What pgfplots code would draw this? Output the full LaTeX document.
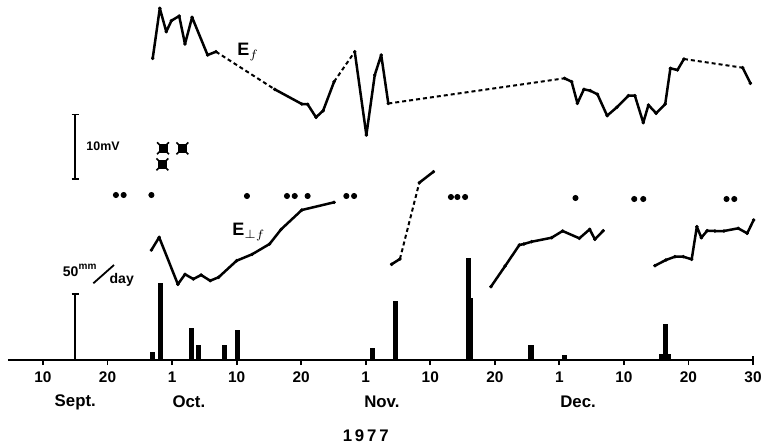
\documentclass[border=0pt]{standalone}
\usepackage{pgfplots}
\pgfplotsset{compat=1.18}
\usepackage{fontspec}
\setmainfont{Liberation Sans}
\begin{document}
\begin{tikzpicture}
\path[use as bounding box] (-4pt,-43pt) rectangle (378.5pt,180pt);
\begin{axis}[
  scale only axis, width=372.5pt, height=180pt,
  xmin=4.58, xmax=120, ymin=0, ymax=360,
  axis x line*=bottom, axis y line=none,
  axis line style={line width=0.9pt,-},
  xtick={10,20,...,120},
  xticklabels={10,20,1,10,20,1,10,20,1,10,20,30},
  tick align=outside, major tick length=2.5pt,
  xtick style={line width=0.9pt, black},
  ticklabel style={font=\bfseries\fontsize{7.7}{8}\selectfont},
  /pgf/number format/assume math mode=true,
  clip=false,
  solidline/.style={line width=1.25pt, line join=round, mark=*, mark size=0.75pt, mark options={line width=0.3pt}},
  dashline/.style={line width=1pt, dash pattern=on 2pt off 1.5pt},
]
% ---- E_f (solid parts) ----
\addplot[solidline] coordinates {
 (27.0,301.7) (28.1,351.7) (29.1,328.3) (29.9,339.3) (31.1,344) (32.0,316) (33.1,342.7) (35.5,305) (36.8,308.3)};
\addplot[solidline] coordinates {
 (45.9,270.7) (50.1,256) (51.0,255.7) (52.3,242.7) (53.4,249.3) (55.1,278.3)};
\addplot[solidline] coordinates {
 (58.3,308.3) (60.1,225) (61.4,285) (62.4,305) (63.5,256.5)};
\addplot[solidline] coordinates {
 (90.8,281.7) (91.9,278.3) (92.8,256.7) (93.8,270.7) (94.8,269.3) (95.9,265.7) (97.4,244.3) (98.9,252.7) (100.7,264.3) (101.7,264.3) (103.0,237.3) (103.8,255) (105.0,246.7) (106.4,256) (107.2,291.7) (108.3,290) (109.3,301)};
\addplot[solidline] coordinates {
 (118.4,292.3) (119.6,276.7)};
% ---- E_f (dashed gaps) ----
\addplot[dashline] coordinates {(36.8,308.3) (45.9,270.7)};
\addplot[dashline] coordinates {(55.1,278.3) (58.3,308.3)};
\addplot[dashline] coordinates {(63.5,256.5) (90.8,281.7)};
\addplot[dashline] coordinates {(109.3,301) (118.4,292.3)};
% ---- E_perp f ----
\addplot[solidline] coordinates {
 (26.8,110) (28.0,122.7) (30.9,75.7) (32.0,85.7) (33.3,81) (34.5,85) (35.9,79.3) (37.2,82.7) (40.0,99.3) (42.4,105.7) (45.1,116) (46.9,130.7) (50.1,150) (55.1,157.7)};
\addplot[solidline] coordinates {(64.0,95.7) (65.3,101)};
\addplot[dashline] coordinates {(65.3,101) (68.3,177.3)};
\addplot[solidline] coordinates {(68.3,177.3) (70.5,188.3)};
\addplot[solidline] coordinates {
 (79.4,73.3) (81.6,94) (83.8,115) (84.5,116) (85.7,118.3) (88.8,122.3) (90.5,129) (93.1,121.7) (94.7,130.7) (95.5,120.7) (96.8,129.3)};
\addplot[solidline] coordinates {
 (104.8,94.3) (106.5,100) (107.9,103.3) (109.2,103.3) (110.5,100.7) (111.3,133.3) (112.0,122.3) (112.9,129.3) (114.1,129) (115.5,129) (117.7,131.7) (119.1,126.7) (120.1,140)};
% ---- row of dots ----
\addplot[only marks, mark=*, mark size=1.3pt] coordinates {
 (21.3,165) (22.5,165) (26.8,165) (41.6,164) (47.8,164) (49.0,164) (51.0,164) (57.0,164) (58.2,164)
 (73.2,163) (74.2,163) (75.4,163) (92.5,162) (101.6,161) (103.0,161) (115.9,161) (117.1,161)};
% ---- crossed squares ----
\addplot[only marks, mark=square*, mark size=2pt] coordinates {(28.6,211.7) (31.6,211.7) (28.5,195.7)};
\addplot[only marks, mark=x, mark size=4.2pt, line width=0.8pt] coordinates {(28.6,211.7) (31.6,211.7) (28.5,195.7)};
% ---- rainfall bars ----
\addplot[ycomb, line width=2.6pt, mark=none] coordinates {
 (27.0,8) (28.2,77.5) (33.0,31.7) (34.1,15) (38.1,15) (40.1,30.5) (61.1,12.3) (64.6,59)
 (75.9,102) (76.2,62) (85.6,15) (90.8,5) (106.4,36.5)};
\addplot[ycomb, line width=6pt, mark=none] coordinates {(106.4,6.5)};
% ---- scale bars ----
\draw[line width=0.8pt] (axis cs:15,181) -- (axis cs:15,245.7);
\draw[line width=0.8pt] (axis cs:14.45,181) -- (axis cs:15.55,181);
\draw[line width=0.8pt] (axis cs:14.45,245.7) -- (axis cs:15.55,245.7);
\draw[line width=0.8pt] (axis cs:15,0) -- (axis cs:15,66);
\draw[line width=0.8pt] (axis cs:14.45,66) -- (axis cs:15.55,66);
\draw[line width=0.9pt] (axis cs:120,0) -- (axis cs:120,4);
% ---- labels ----
\node[font=\bfseries\fontsize{6.2}{7}\selectfont] at (axis cs:19.3,213.3) {10mV};
\node[font=\bfseries\fontsize{7}{8}\selectfont] at (axis cs:14.3,88.3) {50};
\node[font=\bfseries\fontsize{5}{6}\selectfont] at (axis cs:16.9,93.5) {mm};
\draw[line width=0.9pt] (axis cs:17.8,76.7) -- (axis cs:21.0,95);
\node[font=\bfseries\fontsize{7}{8}\selectfont] at (axis cs:22.2,80) {day};
\node[font=\bfseries\fontsize{9}{10}\selectfont] at (axis cs:41.8,308) {E$_{f}$};
\node[font=\bfseries\fontsize{9}{10}\selectfont] at (axis cs:41.9,128) {E$_{\perp f}$};
\node[font=\bfseries\fontsize{8.4}{9}\selectfont] at (axis cs:15,-42) {Sept.};
\node[font=\bfseries\fontsize{8.4}{9}\selectfont] at (axis cs:32.6,-42) {Oct.};
\node[font=\bfseries\fontsize{8.4}{9}\selectfont] at (axis cs:62.5,-42) {Nov.};
\node[font=\bfseries\fontsize{8.4}{9}\selectfont] at (axis cs:92.9,-42) {Dec.};
\node[font=\bfseries\fontsize{8.4}{9}\selectfont] at (axis cs:60,-76) {1\,9\,7\,7};
\end{axis}
\end{tikzpicture}
\end{document}
